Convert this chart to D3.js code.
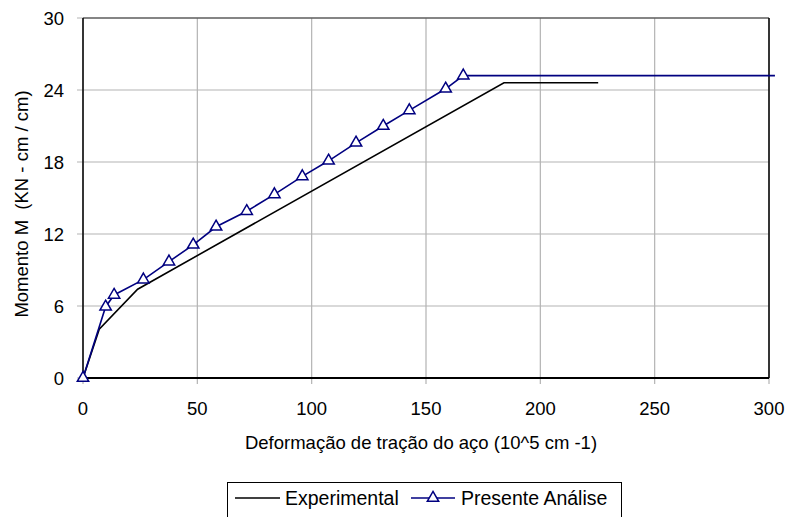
<!DOCTYPE html>
<html>
<head>
<meta charset="utf-8">
<script src="https://cdn.jsdelivr.net/npm/d3@7"></script>
<style>
  html, body { margin: 0; padding: 0; background: #fff; }
  svg { display: block; font-family: "Liberation Sans", Arial, sans-serif; }
  text { white-space: pre; }
</style>
</head>
<body>
<svg id="chart" width="788" height="517"></svg>
<script>
// ---- data ----
const xTicks = [0, 50, 100, 150, 200, 250, 300];
const yTicks = [0, 6, 12, 18, 24, 30];

const expX = [0, 7.1, 23.9, 184.1, 225.3];
const expY = [0, 4.06, 7.4, 24.6, 24.6];

const anaX = [0, 9.9, 13.6, 26.4, 37.6, 48.2, 58.2, 71.6, 83.7, 95.9, 107.4, 119.4, 131.3, 142.7, 158.6, 166.3, 302.6];
const anaY = [0, 5.94, 6.92, 8.2, 9.7, 11.1, 12.6, 13.9, 15.3, 16.8, 18.1, 19.6, 21.0, 22.3, 24.1, 25.2, 25.2];

const seriesNames = ["Experimental", "Presente Análise"];
const xTitle = "Deformação de tração do aço (10^5 cm -1)";
const yTitle = "Momento M  (KN - cm / cm)";

// ---- layout ----
const svg = d3.select("#chart");
const L = 83, R = 769, T = 18, B = 378;
const x = d3.scaleLinear().domain([0, 300]).range([L, R]);
const y = d3.scaleLinear().domain([0, 30]).range([B, T]);
const fs = 18.5;

// gridlines
svg.append("g").selectAll("line.gx").data(xTicks).join("line")
  .attr("x1", d => x(d)).attr("x2", d => x(d))
  .attr("y1", T).attr("y2", B + 6)
  .attr("stroke", "#b3b3b3").attr("stroke-width", 1.2);
svg.append("g").selectAll("line.gy").data(yTicks).join("line")
  .attr("x1", L - 6).attr("x2", R)
  .attr("y1", d => y(d)).attr("y2", d => y(d))
  .attr("stroke", "#b3b3b3").attr("stroke-width", 1.2);

// frame
svg.append("line").attr("x1", L).attr("x2", R).attr("y1", T).attr("y2", T).attr("stroke", "#333").attr("stroke-width", 1.2);
svg.append("line").attr("x1", R).attr("x2", R).attr("y1", T).attr("y2", B).attr("stroke", "#000").attr("stroke-width", 1.5);
svg.append("line").attr("x1", L).attr("x2", L).attr("y1", T).attr("y2", B).attr("stroke", "#000").attr("stroke-width", 1.5);
svg.append("line").attr("x1", L).attr("x2", R).attr("y1", B).attr("y2", B).attr("stroke", "#000").attr("stroke-width", 2);

// tick labels
svg.append("g").selectAll("text").data(xTicks).join("text")
  .attr("x", d => x(d)).attr("y", B + 37)
  .attr("text-anchor", "middle").attr("font-size", fs).attr("fill", "#000")
  .text(d => d);
svg.append("g").selectAll("text").data(yTicks).join("text")
  .attr("x", L - 19).attr("y", d => y(d) + 6.5)
  .attr("text-anchor", "end").attr("font-size", fs).attr("fill", "#000")
  .text(d => d);

// axis titles
svg.append("text").attr("x", (L + R) / 2 - 5).attr("y", 449)
  .attr("text-anchor", "middle").attr("font-size", fs).text(xTitle);
svg.append("text").attr("transform", `translate(28, 204) rotate(-90)`)
  .attr("text-anchor", "middle").attr("font-size", fs).text(yTitle);

// lines
const line = d3.line().x(d => x(d[0])).y(d => y(d[1]));
const expData = d3.zip(expX, expY);
const anaData = d3.zip(anaX, anaY);

svg.append("path").datum(expData).attr("d", line)
  .attr("fill", "none").attr("stroke", "#000").attr("stroke-width", 1.6);
svg.append("path").datum(anaData).attr("d", line)
  .attr("fill", "none").attr("stroke", "#000080").attr("stroke-width", 1.6);

const tri = d3.symbol().type(d3.symbolTriangle).size(56);
svg.append("g").selectAll("path").data(anaData.slice(0, -1)).join("path")
  .attr("d", tri)
  .attr("transform", d => `translate(${x(d[0])},${y(d[1])})`)
  .attr("fill", "#fff").attr("stroke", "#000080").attr("stroke-width", 1.5);

// legend
const lg = svg.append("g");
lg.append("rect").attr("x", 227.5).attr("y", 482.5).attr("width", 394).attr("height", 60)
  .attr("fill", "#fff").attr("stroke", "#000").attr("stroke-width", 1);
lg.append("line").attr("x1", 235).attr("x2", 280).attr("y1", 498).attr("y2", 498)
  .attr("stroke", "#000").attr("stroke-width", 1.6);
lg.append("text").attr("x", 285).attr("y", 505).attr("font-size", 19.5).text(seriesNames[0]);
lg.append("line").attr("x1", 411).attr("x2", 455).attr("y1", 498).attr("y2", 498)
  .attr("stroke", "#000080").attr("stroke-width", 1.6);
lg.append("path").attr("d", tri).attr("transform", "translate(433,498)")
  .attr("fill", "#fff").attr("stroke", "#000080").attr("stroke-width", 1.5);
lg.append("text").attr("x", 461).attr("y", 505).attr("font-size", 19.5).text(seriesNames[1]);
</script>
</body>
</html>
